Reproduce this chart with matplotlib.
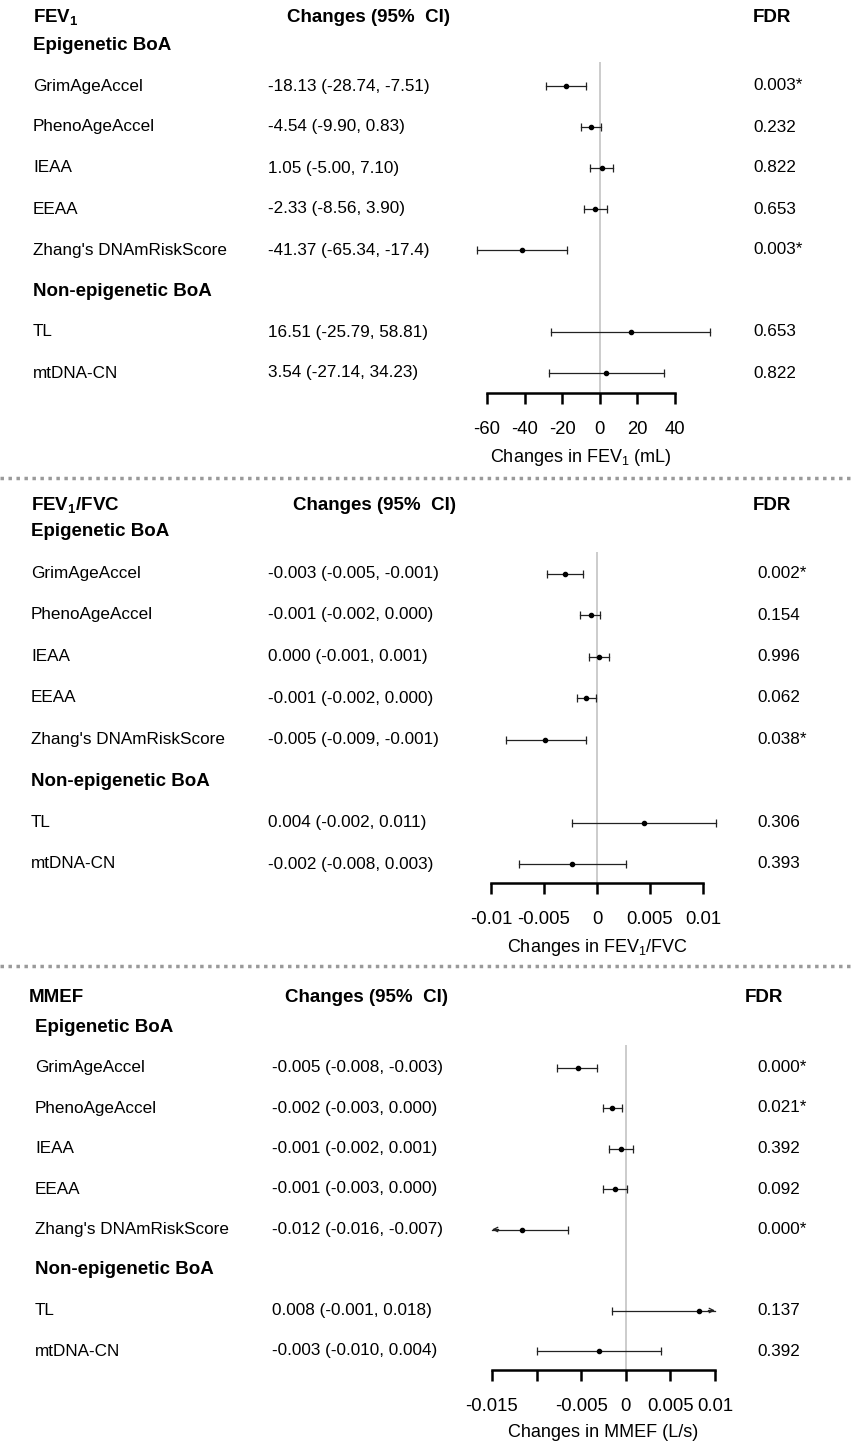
import numpy as np
import matplotlib.pyplot as plt
from matplotlib.transforms import blended_transform_factory
from matplotlib.lines import Line2D

plt.rcParams['font.family'] = ['Liberation Sans', 'DejaVu Sans']
plt.rcParams['mathtext.fontset'] = 'custom'
plt.rcParams['mathtext.rm'] = 'Liberation Sans'
plt.rcParams['mathtext.bf'] = 'Liberation Sans:bold'
plt.rcParams['mathtext.it'] = 'Liberation Sans:italic'

# ---- data ----
markers = ["GrimAgeAccel", "PhenoAgeAccel", "IEAA", "EEAA",
           "Zhang's DNAmRiskScore", "TL", "mtDNA-CN"]
marker_rows = [1, 2, 3, 4, 5, 7, 8]
group_labels = ["Epigenetic BoA", "Non-epigenetic BoA"]
group_rows = [0, 6]

fev1_est = [-18.13, -4.54, 1.05, -2.33, -41.37, 16.51, 3.54]
fev1_lo = [-28.74, -9.90, -5.00, -8.56, -65.34, -25.79, -27.14]
fev1_hi = [-7.51, 0.83, 7.10, 3.90, -17.4, 58.81, 34.23]
fev1_text = ["-18.13 (-28.74, -7.51)", "-4.54 (-9.90, 0.83)", "1.05 (-5.00, 7.10)",
             "-2.33 (-8.56, 3.90)", "-41.37 (-65.34, -17.4)", "16.51 (-25.79, 58.81)",
             "3.54 (-27.14, 34.23)"]
fev1_fdr = ["0.003*", "0.232", "0.822", "0.653", "0.003*", "0.653", "0.822"]
fev1_ticks = [-60, -40, -20, 0, 20, 40]
fev1_ticklabels = ["-60", "-40", "-20", "0", "20", "40"]

ratio_est = [-0.0030, -0.0006, 0.0002, -0.0010, -0.0049, 0.0044, -0.0024]
ratio_lo = [-0.0047, -0.0016, -0.0008, -0.0019, -0.0086, -0.0024, -0.0074]
ratio_hi = [-0.0013, 0.0003, 0.0011, -0.0001, -0.0010, 0.0112, 0.0027]
ratio_text = ["-0.003 (-0.005, -0.001)", "-0.001 (-0.002, 0.000)", "0.000 (-0.001, 0.001)",
              "-0.001 (-0.002, 0.000)", "-0.005 (-0.009, -0.001)", "0.004 (-0.002, 0.011)",
              "-0.002 (-0.008, 0.003)"]
ratio_fdr = ["0.002*", "0.154", "0.996", "0.062", "0.038*", "0.306", "0.393"]
ratio_ticks = [-0.01, -0.005, 0, 0.005, 0.01]
ratio_ticklabels = ["-0.01", "-0.005", "0", "0.005", "0.01"]

mmef_est = [-0.0054, -0.0015, -0.0005, -0.0012, -0.0116, 0.0082, -0.0030]
mmef_lo = [-0.0077, -0.0026, -0.0019, -0.0026, -0.016, -0.0015, -0.0100]
mmef_hi = [-0.0032, -0.0004, 0.0008, 0.0001, -0.0065, 0.018, 0.0039]
mmef_text = ["-0.005 (-0.008, -0.003)", "-0.002 (-0.003, 0.000)", "-0.001 (-0.002, 0.001)",
             "-0.001 (-0.003, 0.000)", "-0.012 (-0.016, -0.007)", "0.008 (-0.001, 0.018)",
             "-0.003 (-0.010, 0.004)"]
mmef_fdr = ["0.000*", "0.021*", "0.392", "0.092", "0.000*", "0.137", "0.392"]
mmef_ticks = [-0.015, -0.01, -0.005, 0, 0.005, 0.01]
mmef_ticklabels = ["-0.015", "", "-0.005", "0", "0.005", "0.01"]

W, H = 851, 1443
fig = plt.figure(figsize=(W / 100, H / 100), dpi=100)

# layout in pixels
panels = [
    dict(title=r"FEV$_\mathbf{1}$", xlabel=r"Changes in FEV$_\mathrm{1}$ (mL)",
         est=fev1_est, lo=fev1_lo, hi=fev1_hi, text=fev1_text, fdr=fev1_fdr,
         ticks=fev1_ticks, ticklabels=fev1_ticklabels, clip=False,
         row0=45, sp=41, x0=487, x1=675, top=62, bottom=393, head_y=17,
         name_x=33, ci_x=268, fdr_x=753, head_x=(33, 287, 753)),
    dict(title=r"FEV$_\mathbf{1}$/FVC", xlabel=r"Changes in FEV$_\mathrm{1}$/FVC",
         est=ratio_est, lo=ratio_lo, hi=ratio_hi, text=ratio_text, fdr=ratio_fdr,
         ticks=ratio_ticks, ticklabels=ratio_ticklabels, clip=False,
         row0=532, sp=41.5, x0=491, x1=703, top=552, bottom=883, head_y=505,
         name_x=31, ci_x=268, fdr_x=757, head_x=(31, 293, 753)),
    dict(title="MMEF", xlabel="Changes in MMEF (L/s)",
         est=mmef_est, lo=mmef_lo, hi=mmef_hi, text=mmef_text, fdr=mmef_fdr,
         ticks=mmef_ticks, ticklabels=mmef_ticklabels, clip=True,
         row0=1027, sp=40.5, x0=492, x1=715, top=1045, bottom=1370, head_y=997,
         name_x=35, ci_x=272, fdr_x=757, head_x=(29, 285, 745)),
]

for p in panels:
    ax = fig.add_axes([p['x0'] / W, 1 - p['bottom'] / H,
                       (p['x1'] - p['x0']) / W, (p['bottom'] - p['top']) / H])
    xmin, xmax = p['ticks'][0], p['ticks'][-1]
    ax.set_xlim(xmin, xmax)
    ax.set_ylim((p['bottom'] - p['row0']) / p['sp'], (p['top'] - p['row0']) / p['sp'])
    ax.axvline(0, color='#c4c4c4', lw=1.2, zorder=0)

    for r, m, lo, hi in zip(marker_rows, p['est'], p['lo'], p['hi']):
        lo_c, hi_c = lo, hi
        if p['clip']:
            lo_c, hi_c = max(lo, xmin), min(hi, xmax)
        ax.plot([lo_c, hi_c], [r, r], color='#222222', lw=0.9, clip_on=False)
        for end, val, sgn in [(lo_c, lo, -1), (hi_c, hi, 1)]:
            if end != val:
                # clipped interval: arrow at the axis limit
                ax.annotate('', xy=(end, r), xytext=(end - sgn * (xmax - xmin) * 0.03, r),
                            arrowprops=dict(arrowstyle='->', lw=0.9, color='#222222',
                                            mutation_scale=8, shrinkA=0, shrinkB=0),
                            annotation_clip=False)
            else:
                ax.plot([end], [r], marker='|', ms=5.5, mew=0.9, color='#222222', clip_on=False)
        ax.plot([m], [r], 'o', ms=3, color='black', clip_on=False)

    for side in ['top', 'left', 'right']:
        ax.spines[side].set_visible(False)
    ax.spines['bottom'].set_linewidth(1.8)
    ax.set_yticks([])
    ax.set_xticks(p['ticks'])
    ax.set_xticklabels(p['ticklabels'])
    ax.tick_params(axis='x', length=8, width=1.8, pad=12, labelsize=13.3)
    ax.set_xlabel(p['xlabel'], fontsize=13, labelpad=6.5)
    ax.patch.set_visible(False)

    tr = blended_transform_factory(fig.transFigure, ax.transData)
    hy = (p['head_y'] - p['row0']) / p['sp']
    for hx, s in zip(p['head_x'], [p['title'], "Changes (95%  CI)", "FDR"]):
        ax.text(hx / W, hy, s, transform=tr, fontsize=13.5, fontweight='bold',
                va='center', ha='left')
    for r, g in zip(group_rows, group_labels):
        ax.text(p['name_x'] / W, r, g, transform=tr, fontsize=13.5,
                fontweight='bold', va='center')
    for r, name, ci, fdr in zip(marker_rows, markers, p['text'], p['fdr']):
        ax.text(p['name_x'] / W, r, name, transform=tr, fontsize=12.3, va='center')
        ax.text(p['ci_x'] / W, r, ci, transform=tr, fontsize=12.3, va='center')
        ax.text(p['fdr_x'] / W, r, fdr, transform=tr, fontsize=12.3, va='center')

# dotted separators between panels
for y in [478, 966]:
    fig.add_artist(Line2D([0, 1], [1 - y / H] * 2, transform=fig.transFigure,
                          color='#9a9a9a', lw=2.5, linestyle=(0, (1, 1.3))))

fig.savefig('out.png', dpi=100)
